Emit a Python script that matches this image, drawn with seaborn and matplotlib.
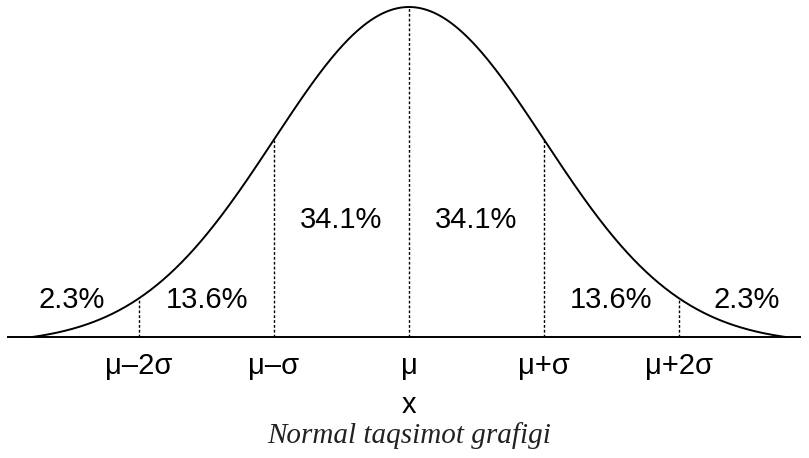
import numpy as np
import pandas as pd
import matplotlib
matplotlib.use("Agg")
import matplotlib.pyplot as plt
import seaborn as sns

# Chart values
mu = 0.0
sigma = 1.0
sigma_steps = [-2, -1, 0, 1, 2]
tick_labels = ["μ–2σ", "μ–σ", "μ", "μ+σ", "μ+2σ"]
band_centers = [-2.5, -1.5, -0.5, 0.5, 1.5, 2.5]
band_labels = ["2.3%", "13.6%", "34.1%", "34.1%", "13.6%", "2.3%"]
band_heights = [0.112, 0.112, 0.355, 0.355, 0.112, 0.112]
curve_span = 2.79


def bell(z):
    # normal density, shifted so the tails touch the baseline at +-curve_span
    end = np.exp(-0.5 * curve_span ** 2)
    return (np.exp(-0.5 * z ** 2) - end) / (1 - end)


x = np.linspace(mu - curve_span * sigma, mu + curve_span * sigma, 600)
curve = pd.DataFrame({"x": x, "y": bell((x - mu) / sigma)})

sns.set_style("white")
plt.rcParams['font.family'] = ['Liberation Sans', 'DejaVu Sans']

fig = plt.figure(figsize=(8.09, 4.58), dpi=100)
ax = fig.add_axes([0, 0, 1, 1])

sns.lineplot(data=curve, x="x", y="y", color="black", linewidth=1.4, ax=ax)

# baseline
ax.hlines(0, -2.98, 2.90, color="black", linewidth=1.4)

# dotted sigma lines up to the curve
for s in sigma_steps:
    ax.vlines(mu + s * sigma, 0, bell(s), color="black", linewidth=1.0,
              linestyles=(0, (2, 1.5)))

for pos, lab in zip(sigma_steps, tick_labels):
    ax.text(mu + pos * sigma, -0.088, lab, ha="center", va="center",
            fontsize=21, color="black")

for c, lab, h in zip(band_centers, band_labels, band_heights):
    ax.text(mu + c * sigma, h, lab, ha="center", va="center",
            fontsize=21, color="black")

ax.text(mu, -0.205, "x", ha="center", va="center", fontsize=21, color="black")
ax.text(mu, -0.30, "Normal taqsimot grafigi", ha="center", va="center",
        fontsize=21, style="italic", color="#222222",
        family=["Liberation Serif", "DejaVu Serif"])

ax.set_xlim(-409 / 135, 400 / 135)
ax.set_ylim(-121 / 330, 337 / 330)
ax.set_axis_off()

fig.savefig("out.png", dpi=100)
